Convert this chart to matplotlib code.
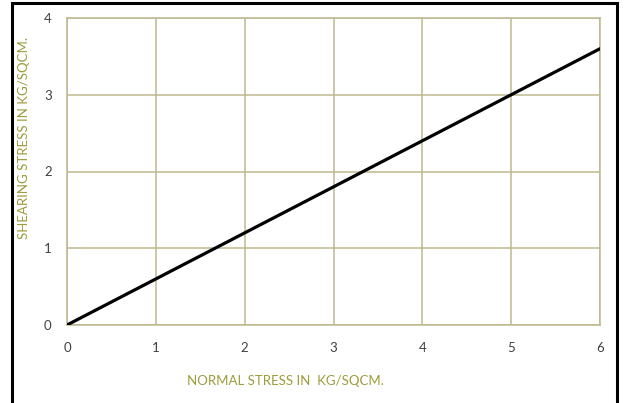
import matplotlib.pyplot as plt
from matplotlib.patches import Rectangle

# data
normal_stress = [0, 1, 2, 3, 4, 5, 6]
shear_stress = [0, 0.6, 1.2, 1.8, 2.4, 3.0, 3.6]
x_ticks = [0, 1, 2, 3, 4, 5, 6]
y_ticks = [0, 1, 2, 3, 4]

grid_col = "#bdb88e"
label_col = "#9c9c3c"
tick_col = "#404040"

plt.rcParams['font.family'] = ['Lato', 'DejaVu Sans']

fig = plt.figure(figsize=(6.27, 4.03), dpi=100)
ax = fig.add_axes([67 / 627, 1 - 325 / 403, 533 / 627, 307 / 403])

ax.plot(normal_stress, shear_stress, color="black", lw=2.3, solid_capstyle="round", zorder=3)

ax.set_xlim(0, 6)
ax.set_ylim(0, 4)
ax.set_xticks(x_ticks)
ax.set_yticks(y_ticks)
ax.grid(True, color=grid_col, lw=1.1)
ax.tick_params(length=0, labelsize=9.5, colors=tick_col)
ax.tick_params(axis="x", pad=12)
ax.tick_params(axis="y", pad=11)
for s in ax.spines.values():
    s.set_color(grid_col)
    s.set_linewidth(1.1)

ax.set_xlabel("NORMAL STRESS IN  KG/SQCM.", color=label_col, fontsize=9.5)
ax.set_ylabel("SHEARING STRESS IN KG/SQCM.", color=label_col, fontsize=9.5)
ax.xaxis.set_label_coords(0.41, -0.163)
ax.yaxis.set_label_coords(-0.07, 0.61)

# outer frame
fig.patches.append(Rectangle((12 / 627, -0.05), 605 / 627, 1.05 - 3 / 403,
                             transform=fig.transFigure, fill=False,
                             edgecolor="black", lw=2.2))

fig.savefig("out.png", dpi=100)
